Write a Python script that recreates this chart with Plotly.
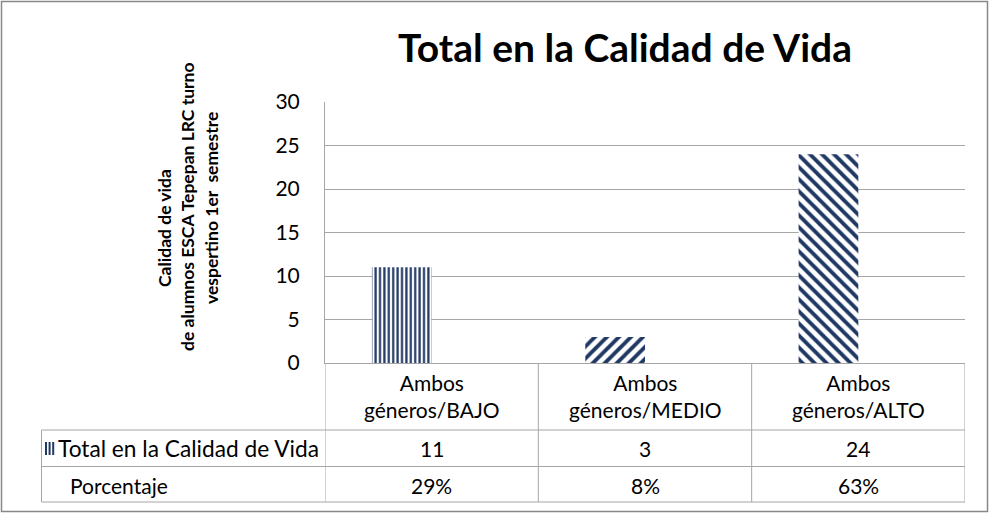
import plotly.graph_objects as go

# ---------------- data ----------------
categories = ["Ambos géneros/BAJO", "Ambos géneros/MEDIO", "Ambos géneros/ALTO"]
totals = [11, 3, 24]
porcentaje = [0.29, 0.08, 0.63]
series_names = ["Total en la Calidad de Vida", "Porcentaje"]
y_ticks = [0, 5, 10, 15, 20, 25, 30]
title_text = "Total en la Calidad de Vida"
ytitle_lines = ["Calidad de vida", "de alumnos ESCA Tepepan LRC turno", "vespertino 1er  semestre"]

# ---------------- geometry helpers ----------------
W, H = 990, 514
PL, PR, PT, PB = 325, 965, 102, 363
def px(x):
    return (x - PL) / (PR - PL)
def py(y):
    return (PB - y) / (PB - PT)

NAVY = "#203864"
GRID = "#a6a6a6"
FONT = "Lato"

fig = go.Figure()
fig.add_trace(go.Bar(
    x=categories, y=totals, name=series_names[0],
    marker=dict(
        color="white",
        line=dict(width=0),
        pattern=dict(shape=["|", "/", "\\"], fgcolor=NAVY, bgcolor="white",
                     size=[4.4, 8.5, 8.5], solidity=[0.5, 0.45, 0.45], fillmode="replace"),
    ),
    hoverinfo="x+y",
))
fig.add_trace(go.Bar(
    x=categories, y=porcentaje, name=series_names[1],
    marker=dict(color="rgba(0,0,0,0)", line=dict(width=0)),
    hoverinfo="x+y",
))

shapes = []
LINE = dict(color=GRID, width=1)
# horizontal table lines
for yy in [430, 466.5, 502]:
    shapes.append(dict(type="line", xref="paper", yref="paper",
                       x0=px(41.5), x1=px(PR), y0=py(yy), y1=py(yy), line=LINE))
# vertical table lines at category boundaries
n = len(categories)
for b in range(n + 1):
    shapes.append(dict(type="line", xref="x", yref="paper",
                       x0=b - 0.5, x1=b - 0.5, y0=0, y1=py(502), line=LINE))
# left edge of row-label column
shapes.append(dict(type="line", xref="paper", yref="paper",
                   x0=px(41.5), x1=px(41.5), y0=py(430), y1=py(502), line=LINE))
# legend key (III) in series row
for i in range(3):
    x0 = 45 + i * 3.6
    shapes.append(dict(type="rect", xref="paper", yref="paper",
                       x0=px(x0), x1=px(x0 + 2), y0=py(455), y1=py(442),
                       fillcolor=NAVY, line=dict(width=0)))
# outer chart border
shapes.append(dict(type="rect", xref="paper", yref="paper",
                   x0=px(1.5), x1=px(987.5), y0=py(1.5), y1=py(511.5),
                   line=dict(color="#888888", width=1.5), fillcolor="rgba(0,0,0,0)"))

annotations = []
# category labels
for c in categories:
    annotations.append(dict(x=c, xref="x", y=py(396), yref="paper",
                            text=c.replace(" ", "<br>", 1), showarrow=False,
                            font=dict(family=FONT, size=21, color="black"),
                            xanchor="center", yanchor="middle", align="center"))
# values rows
for c, v in zip(categories, totals):
    annotations.append(dict(x=c, xref="x", y=py(448), yref="paper", text=str(v),
                            showarrow=False, font=dict(family=FONT, size=21, color="black"),
                            xanchor="center", yanchor="middle"))
for c, p in zip(categories, porcentaje):
    annotations.append(dict(x=c, xref="x", y=py(485), yref="paper", text=f"{round(p * 100)}%",
                            showarrow=False, font=dict(family=FONT, size=21, color="black"),
                            xanchor="center", yanchor="middle"))
# row labels
annotations.append(dict(x=px(56), xref="paper", y=py(448), yref="paper", text=series_names[0],
                        showarrow=False, font=dict(family=FONT, size=22.7, color="black"),
                        xanchor="left", yanchor="middle"))
annotations.append(dict(x=px(68), xref="paper", y=py(485), yref="paper", text=series_names[1],
                        showarrow=False, font=dict(family=FONT, size=21, color="black"),
                        xanchor="left", yanchor="middle"))
# y-axis title (rotated, three lines)
for (xc, yc), line in zip([(164, 228), (187, 207), (211, 208)], ytitle_lines):
    annotations.append(dict(x=px(xc), xref="paper", y=py(yc), yref="paper", text=line,
                            textangle=-90, showarrow=False,
                            font=dict(family=FONT, size=17.5, color="black", weight="bold"),
                            xanchor="center", yanchor="middle"))

fig.update_layout(
    width=W, height=H,
    margin=dict(l=PL, r=W - PR, t=PT, b=H - PB, pad=0),
    paper_bgcolor="white", plot_bgcolor="white",
    barmode="group", bargap=0.44, bargroupgap=0,
    showlegend=False,
    title=dict(text=title_text, x=625 / W, xref="container", xanchor="center",
               y=1 - 48 / H, yref="container", yanchor="middle",
               font=dict(family=FONT, size=39, color="black", weight="bold")),
    xaxis=dict(range=[-0.5, n - 0.5], showticklabels=False, showgrid=False,
               showline=True, linecolor=GRID, linewidth=1, zeroline=False, ticks=""),
    yaxis=dict(range=[0, 30], tickvals=y_ticks, showgrid=True, gridcolor=GRID, gridwidth=1,
               showline=True, linecolor=GRID, linewidth=1, zeroline=False, ticks="",
               ticklabelstandoff=20,
               tickfont=dict(family=FONT, size=21, color="black")),
    shapes=shapes, annotations=annotations,
    font=dict(family=FONT),
)

fig.write_html("out.html", config={"displayModeBar": False},
               post_script="document.body.style.margin='0';document.body.style.padding='0';")
